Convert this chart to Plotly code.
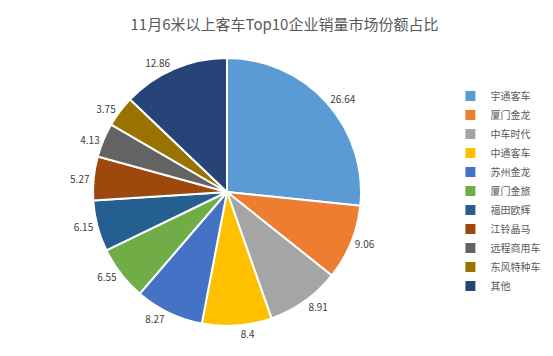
import plotly.graph_objects as go

labels = ["宇通客车", "厦门金龙", "中车时代", "中通客车", "苏州金龙", "厦门金旅",
          "福田欧辉", "江铃晶马", "远程商用车", "东风特种车", "其他"]
values = [26.64, 9.06, 8.91, 8.4, 8.27, 6.55, 6.15, 5.27, 4.13, 3.75, 12.86]
colors = ["#5B9BD5", "#ED7D31", "#A5A5A5", "#FFC000", "#4472C4", "#70AD47",
          "#255E91", "#9E480E", "#636363", "#997300", "#264478"]

W, H = 553, 356
cx, cy, r = 219, 184, 134

fig = go.Figure(go.Pie(
    labels=labels, values=values, sort=False, direction="clockwise", rotation=0,
    marker=dict(colors=colors, line=dict(color="white", width=2)),
    texttemplate="%{value}", textposition="outside",
    textfont=dict(size=10, color="#404040"),
    domain=dict(x=[(cx - r) / W, (cx + r) / W], y=[1 - (cy + r) / H, 1 - (cy - r) / H]),
    hoverinfo="label+value",
))

fig.update_layout(
    width=W, height=H,
    margin=dict(l=0, r=0, t=0, b=0, autoexpand=False),
    paper_bgcolor="white",
    font=dict(family="Noto Sans CJK SC", color="#595959"),
    title=dict(text="11月6米以上客车Top10企业销量市场份额占比", x=0.5, xanchor="center",
               y=1 - 17 / H, yanchor="middle", font=dict(size=15, color="#595959")),
    legend=dict(x=0.80, y=1 - 183 / H, xanchor="left", yanchor="middle",
                font=dict(size=10, color="#595959"), itemwidth=30,
                entrywidth=70, entrywidthmode="pixels",
                tracegroupgap=0),
    showlegend=True,
)

fig.write_html("out.html")
